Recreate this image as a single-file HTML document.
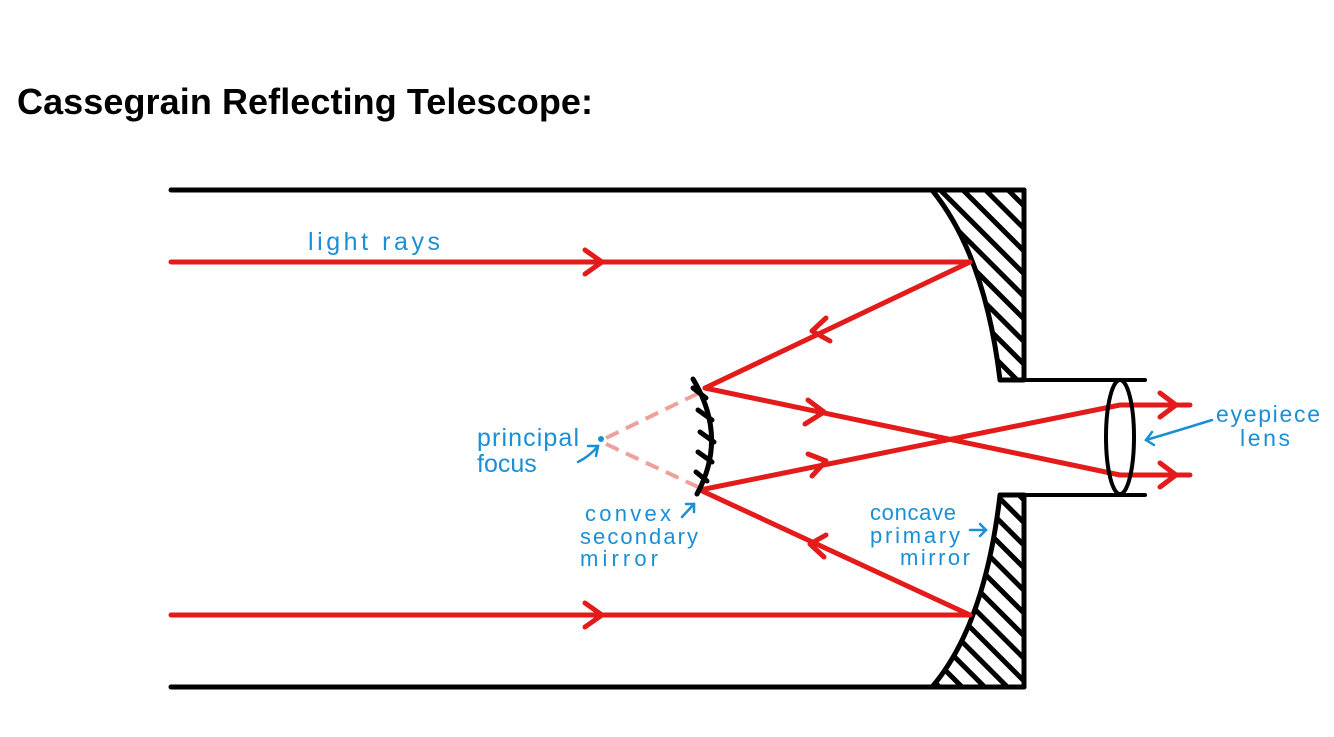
<!DOCTYPE html>
<html><head><meta charset="utf-8"><style>
html,body{margin:0;padding:0;background:#fff;width:1334px;height:737px;overflow:hidden}
</style></head><body>
<svg width="1334" height="737" viewBox="0 0 1334 737" xmlns="http://www.w3.org/2000/svg">
<defs>
<pattern id="h" width="16" height="16" patternUnits="userSpaceOnUse" patternTransform="rotate(-45)">
<rect width="16" height="16" fill="#fff"/><rect x="0" y="0" width="5" height="16" fill="#000"/>
</pattern>
</defs>
<text x="17" y="114" font-family="Liberation Sans, sans-serif" font-weight="bold" font-size="36" fill="#000" textLength="576">Cassegrain Reflecting Telescope:</text>
<g stroke="#000" stroke-width="5" stroke-linecap="round" fill="none">
<line x1="171" y1="190" x2="1024" y2="190"/>
<line x1="171" y1="687" x2="1024" y2="687"/>
<path d="M932,190 L1024,190 L1024,380 L1000,380 Q985,255 932,190 Z" fill="url(#h)" stroke-linejoin="round"/>
<path d="M932,687 L1024,687 L1024,495 L1000,495 Q985,625 932,687 Z" fill="url(#h)" stroke-linejoin="round"/>
<line x1="1000" y1="380" x2="1145" y2="380" stroke-width="4"/>
<line x1="1000" y1="495" x2="1145" y2="495" stroke-width="4"/>
</g>
<g stroke="#e31b1b" stroke-width="5" stroke-linecap="round" stroke-linejoin="round" fill="none">
<line x1="171" y1="262" x2="970" y2="262"/>
<polyline points="585,250 602,262 585,274"/>
<line x1="171" y1="615" x2="970" y2="615"/>
<polyline points="585,603 602,615 585,627"/>
<line x1="970" y1="262" x2="705" y2="388"/>
<polyline points="826,318 812,331 830,341"/>
<line x1="970" y1="615" x2="700" y2="490"/>
<polyline points="826,535 810,544 824,557"/>
<polyline points="705,388 1120,475 1190,475"/>
<polyline points="700,490 1120,405 1190,405"/>
<polyline points="808,400 824,412 805,424"/>
<polyline points="808,454 826,461 812,476"/>
<polyline points="1160,393 1176,405 1160,417"/>
<polyline points="1160,463 1176,475 1160,487"/>
</g>
<g stroke="#f0a09a" stroke-width="4" stroke-dasharray="14,8" fill="none">
<line x1="606" y1="438" x2="703" y2="391"/>
<line x1="606" y1="444" x2="698" y2="487"/>
</g>
<circle cx="601" cy="439" r="3" fill="#1a8fd6"/>
<g stroke="#000" stroke-width="5" stroke-linecap="round" fill="none">
<path d="M693,379 Q728,437 697,494"/>
<line x1="706" y1="398" x2="693" y2="388"/>
<line x1="712" y1="420" x2="698" y2="410"/>
<line x1="714" y1="442" x2="700" y2="432"/>
<line x1="712" y1="462" x2="698" y2="452"/>
<line x1="707" y1="481" x2="696" y2="472"/>
</g>
<ellipse cx="1120" cy="437" rx="14" ry="57" fill="none" stroke="#000" stroke-width="4"/>
<g font-family="Liberation Sans, sans-serif" fill="#1a8fd6" font-size="25">
<text x="308" y="250" textLength="132">light rays</text>
<text x="477" y="446" textLength="102">principal</text>
<text x="477" y="472">focus</text>
<text x="585" y="521" font-size="22" textLength="86">convex</text>
<text x="580" y="544" font-size="22" textLength="118">secondary</text>
<text x="580" y="566" font-size="22" textLength="78">mirror</text>
<text x="870" y="520" font-size="22" textLength="86">concave</text>
<text x="870" y="543" font-size="22" textLength="90">primary</text>
<text x="900" y="565" font-size="22" textLength="70">mirror</text>
<text x="1216" y="422" font-size="23" textLength="104">eyepiece</text>
<text x="1240" y="446" font-size="23" textLength="50">lens</text>
</g>
<g stroke="#1a8fd6" stroke-width="2.5" fill="none" stroke-linecap="round">
<path d="M578,462 Q590,456 598,446"/><polyline points="588,446 598,446 596,456"/>
<path d="M682,517 L694,504"/><polyline points="686,504 694,504 694,512"/>
<path d="M970,530 L986,530"/><polyline points="980,524 986,530 980,536"/>
<path d="M1212,420 Q1180,430 1146,440"/><polyline points="1152,432 1146,440 1154,445"/>
</g>
</svg>
</body></html>
